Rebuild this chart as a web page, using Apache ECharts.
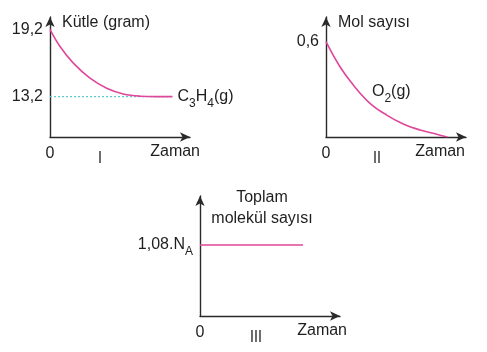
<!DOCTYPE html>
<html>
<head>
<meta charset="utf-8">
<script src="https://cdn.jsdelivr.net/npm/echarts@6/dist/echarts.min.js"></script>
<style>
  html, body { margin: 0; padding: 0; background: #fff; }
  #chart { width: 487px; height: 352px; }
</style>
</head>
<body>
<div id="chart"></div>
<script>
// Grafik I: C3H4 kütlesi
const timeI = [0, 0.86, 2.0, 3.43, 4.86, 6.28, 7.71, 9.14, 10.5]
const massI = [19.2, 17.67, 16.19, 14.85, 13.95, 13.44, 13.24, 13.2, 13.2]
const levelI = [13.2, 13.2]
const levelTimeI = [0, 10.3]
const yTicksI = [19.2, 13.2]
const yTickLabelsI = ['19,2', '13,2']

// Grafik II: O2 mol sayısı
const timeII = [0, 1.2, 2.34, 3.77, 5.2, 6.63, 8.06, 9.49, 10.4]
const molII = [0.6, 0.442, 0.327, 0.212, 0.138, 0.082, 0.044, 0.017, 0]
const yTicksII = [0.6]
const yTickLabelsII = ['0,6']

// Grafik III: toplam molekül sayısı
const timeIII = [0, 8.83]
const totalIII = [1.08, 1.08]
const yTicksIII = [1.08]
const yTickLabelsIII = ['1,08.N{s|A}']

const chartNames = ['I', 'II', 'III']
const chartNamePos = [4.29, 4.37, 4.8]
const axisNames = ['Kütle (gram)', 'Mol sayısı', 'Toplam\nmolekül sayısı']

const PINK = '#e0469a'
const AXIS = '#2a2a2a'
const TEXT = '#1e1e1e'
const FONT = "'Liberation Sans', Arial, sans-serif"

const subRich = {
  s: { fontSize: 12, fontFamily: FONT, color: TEXT, padding: [14, 0, 0, 0] }
}

const chart = echarts.init(document.getElementById('chart'))

function makeX(gridIndex, nameGap) {
  return {
    type: 'value', gridIndex, min: 0, max: 12,
    name: 'Zaman', nameLocation: 'end', nameGap,
    nameTextStyle: { align: 'right', verticalAlign: 'top', padding: [7, 0, 0, 0], fontSize: 16, fontFamily: FONT, color: TEXT },
    axisLine: { show: true, symbol: ['none', 'arrow'], symbolSize: [7, 10], lineStyle: { color: AXIS, width: 1.4 } },
    axisTick: { show: false },
    splitLine: { show: false },
    axisLabel: {
      customValues: [0, chartNamePos[gridIndex]],
      margin: 9,
      fontSize: 16, fontFamily: FONT, color: TEXT,
      formatter: v => (v === 0 ? '0' : '{r|' + chartNames[gridIndex] + '}'),
      rich: { r: { fontSize: 15, fontFamily: "'DejaVu Sans Condensed', 'Liberation Sans Narrow', sans-serif", color: TEXT, padding: [6, 0, 0, 0] } }
    }
  }
}

function makeY(gridIndex, min, max, ticks, labels, nameGap, nameStyle) {
  return {
    type: 'value', gridIndex, min, max,
    name: axisNames[gridIndex], nameLocation: 'end', nameGap,
    nameTextStyle: Object.assign({ fontSize: 16, fontFamily: FONT, color: TEXT, verticalAlign: 'middle', lineHeight: 21 }, nameStyle),
    axisLine: { show: true, symbol: ['none', 'arrow'], symbolSize: [7, 10], lineStyle: { color: AXIS, width: 1.4 } },
    axisTick: { show: false },
    splitLine: { show: false },
    axisLabel: {
      customValues: ticks,
      margin: 7,
      fontSize: 16, fontFamily: FONT, color: TEXT,
      formatter: v => labels[ticks.indexOf(v)],
      rich: subRich
    }
  }
}

const zip = (xs, ys) => xs.map((x, i) => [x, ys[i]])

const option = {
  animation: false,
  backgroundColor: '#fff',
  grid: [
    { left: 50, top: 17, width: 140, height: 120, outerBoundsMode: 'none' },
    { left: 326, top: 17, width: 140, height: 120, outerBoundsMode: 'none' },
    { left: 200, top: 196, width: 140, height: 120, outerBoundsMode: 'none' }
  ],
  xAxis: [makeX(0, 10), makeX(1, -1), makeX(2, 7)],
  yAxis: [
    makeY(0, 9.6, 20.3, yTicksI, yTickLabelsI, -6, { align: 'left', padding: [0, 0, 0, 12] }),
    makeY(1, 0, 0.755, yTicksII, yTickLabelsII, -6, { align: 'left', padding: [0, 0, 0, 12] }),
    makeY(2, 0, 1.825, yTicksIII, yTickLabelsIII, -12, { align: 'center', padding: [0, 0, 0, 124] })
  ],
  series: [
    {
      type: 'line', xAxisIndex: 0, yAxisIndex: 0,
      data: zip(levelTimeI, levelI),
      showSymbol: false, silent: true,
      lineStyle: { color: '#5cc9d3', width: 1.3, type: [2, 2] }
    },
    {
      type: 'line', xAxisIndex: 0, yAxisIndex: 0,
      data: zip(timeI, massI),
      smooth: 0.4, showSymbol: false,
      lineStyle: { color: PINK, width: 1.6 },
      endLabel: {
        show: true, distance: 5,
        formatter: 'C{s|3}H{s|4}(g)',
        fontSize: 16, fontFamily: FONT, color: TEXT,
        rich: subRich
      }
    },
    {
      type: 'line', xAxisIndex: 1, yAxisIndex: 1,
      data: zip(timeII, molII).map((p, i) => i === 3 ? {
        value: p,
        label: {
          show: true, position: 'right', distance: 2, offset: [0, -12],
          formatter: 'O{s|2}(g)',
          fontSize: 16, fontFamily: FONT, color: TEXT,
          rich: subRich
        }
      } : p),
      smooth: 0.4, symbol: 'circle', symbolSize: 0, showSymbol: true,
      lineStyle: { color: PINK, width: 1.6 }
    },
    {
      type: 'line', xAxisIndex: 2, yAxisIndex: 2,
      data: zip(timeIII, totalIII),
      showSymbol: false,
      lineStyle: { color: PINK, width: 1.6 }
    }
  ]
}

chart.setOption(option)
</script>
</body>
</html>
